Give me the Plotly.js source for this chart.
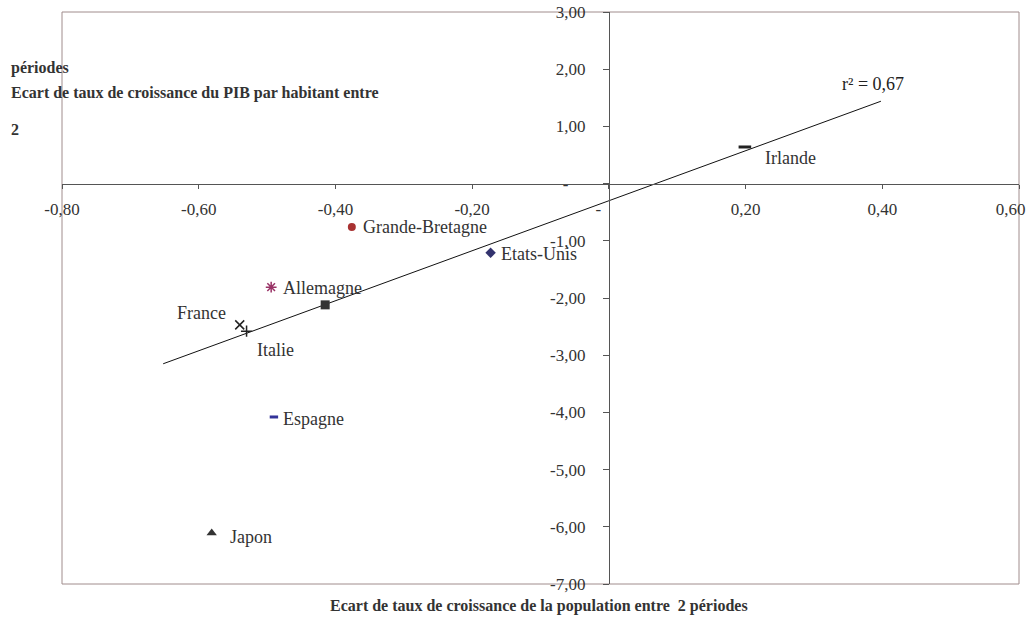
<!DOCTYPE html>
<html>
<head>
<meta charset="utf-8">
<script src="https://cdn.plot.ly/plotly-3.0.1.min.js"></script>
<style>html,body{margin:0;padding:0;background:#fff;}#chart{width:1027px;height:623px;}</style>
</head>
<body>
<div id="chart"></div>
<script>
// Data
const countries = ["Irlande", "Etats-Unis", "Grande-Bretagne", "Allemagne", "Moyenne", "France", "Italie", "Espagne", "Japon"];
const xValues = [0.199, -0.173, -0.376, -0.494, -0.415, -0.540, -0.530, -0.490, -0.581];
const yValues = [0.64, -1.21, -0.76, -1.81, -2.12, -2.47, -2.58, -4.08, -6.11];
const showLabel = [true, true, true, true, false, true, true, true, true];
const trendX = [-0.652, 0.398];
const trendY = [-3.15, 1.44];
const r2Text = "r² = 0,67";
const xTickVals = [-0.8, -0.6, -0.4, -0.2, 0, 0.2, 0.4, 0.6];
const xTickText = ["-0,80", "-0,60", "-0,40", "-0,20", "-&nbsp;&nbsp;&nbsp;&nbsp;&nbsp;", "0,20", "0,40", "0,60&nbsp;&nbsp;&nbsp;&nbsp;"];
const yTickVals = [3, 2, 1, 0, -1, -2, -3, -4, -5, -6, -7];
const yTickText = ["3,00", "2,00", "1,00", "-&nbsp;&nbsp;&nbsp;&nbsp;", "-1,00", "-2,00", "-3,00", "-4,00", "-5,00", "-6,00", "-7,00"];
const yTitleLines = ["périodes", "Ecart de taux de croissance du PIB par habitant entre", "2"];
const xTitle = "Ecart de taux de croissance de la population entre  2 périodes";

// Styles
const serif = "Liberation Serif, Times New Roman, serif";
const markerStyles = [
  {symbol: "line-ew", size: 9, color: "#222", line: {color: "#222", width: 3}},
  {symbol: "diamond", size: 8, color: "#33336e", line: {width: 0}},
  {symbol: "circle", size: 8, color: "#a83232", line: {width: 0}},
  {symbol: "asterisk-open", size: 9, color: "#993366", line: {color: "#993366", width: 1.5}},
  {symbol: "square", size: 9, color: "#333", line: {width: 0}},
  {symbol: "x-thin-open", size: 9, color: "#222", line: {color: "#222", width: 1.5}},
  {symbol: "cross-thin-open", size: 8, color: "#222", line: {color: "#222", width: 1.5}},
  {symbol: "line-ew", size: 6, color: "#333399", line: {color: "#333399", width: 3}},
  {symbol: "triangle-up", size: 9, color: "#333", line: {width: 0}}
];
const labelOffsets = [
  {xanchor: "left", xshift: 18, yshift: -11},
  {xanchor: "left", xshift: 8, yshift: -1},
  {xanchor: "left", xshift: 9, yshift: 0},
  {xanchor: "left", xshift: 10, yshift: -1},
  {xanchor: "left", xshift: 0, yshift: 0},
  {xanchor: "right", xshift: -12, yshift: 12},
  {xanchor: "left", xshift: 8, yshift: -19},
  {xanchor: "left", xshift: 7, yshift: -2},
  {xanchor: "left", xshift: 16, yshift: -4}
];

const traces = [{
  x: trendX, y: trendY, mode: "lines", type: "scatter",
  line: {color: "#111", width: 1}, hoverinfo: "skip", showlegend: false
}];
countries.forEach((c, i) => {
  traces.push({
    x: [xValues[i]], y: [yValues[i]], mode: "markers", type: "scatter",
    name: c, marker: markerStyles[i], showlegend: false, cliponaxis: false
  });
});

const annotations = [];
countries.forEach((c, i) => {
  if (!showLabel[i]) return;
  const o = labelOffsets[i];
  annotations.push({
    x: xValues[i], y: yValues[i], xref: "x", yref: "y", text: c, showarrow: false,
    xanchor: o.xanchor, yanchor: "middle", xshift: o.xshift, yshift: o.yshift,
    font: {family: serif, size: 18, color: "#333"}
  });
});
annotations.push({
  x: trendX[1], y: trendY[1], xref: "x", yref: "y", text: r2Text, showarrow: false,
  xanchor: "center", yanchor: "middle", xshift: -8, yshift: 17,
  font: {family: serif, size: 18, color: "#222"}
});
const yTitlePos = [0.902, 0.858, 0.794];
yTitleLines.forEach((t, i) => {
  annotations.push({
    x: 0, y: yTitlePos[i], xref: "paper", yref: "paper", text: "<b>" + t + "</b>", showarrow: false,
    xanchor: "left", yanchor: "middle", xshift: -53,
    font: {family: serif, size: 16, color: "#333"}
  });
});
annotations.push({
  x: 0.498, y: 0, xref: "paper", yref: "paper", text: "<b>" + xTitle + "</b>", showarrow: false,
  xanchor: "center", yanchor: "top", yshift: -11,
  font: {family: serif, size: 16, color: "#333"}
});

const xr = [-0.8, 0.6], yr = [-7, 3];
const layout = {
  width: 1027, height: 623,
  margin: {l: 62, r: 8, t: 12, b: 39},
  paper_bgcolor: "#fff", plot_bgcolor: "#fff",
  showlegend: false,
  xaxis: {
    range: xr, anchor: "free", position: (0 - yr[0]) / (yr[1] - yr[0]),
    showgrid: false, zeroline: false, showline: true, linecolor: "#555", linewidth: 1,
    ticks: "outside", ticklen: 4, tickcolor: "#555", ticklabelstandoff: 6, ticklabeloverflow: "allow",
    tickvals: xTickVals, ticktext: xTickText,
    tickfont: {family: serif, size: 17, color: "#333"}
  },
  yaxis: {
    range: yr, anchor: "free", position: (0 - xr[0]) / (xr[1] - xr[0]),
    showgrid: false, zeroline: false, showline: true, linecolor: "#555", linewidth: 1,
    ticks: "outside", ticklen: 6, tickcolor: "#555", ticklabelstandoff: 14, ticklabeloverflow: "allow",
    tickvals: yTickVals, ticktext: yTickText,
    tickfont: {family: serif, size: 17, color: "#333"}
  },
  shapes: [{
    type: "rect", xref: "paper", yref: "paper", x0: 0, x1: 1, y0: 0, y1: 1,
    line: {color: "#a08c8c", width: 1}, layer: "below"
  }],
  annotations: annotations
};

Plotly.newPlot("chart", traces, layout, {displayModeBar: false, staticPlot: true});
</script>
</body>
</html>
